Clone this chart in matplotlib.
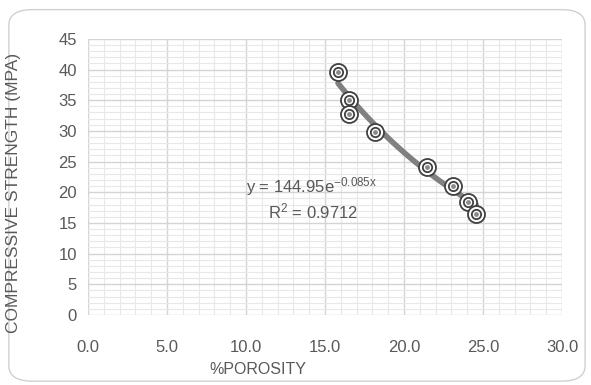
import numpy as np
import matplotlib.pyplot as plt
from matplotlib.patches import FancyBboxPatch
from matplotlib.ticker import MultipleLocator

porosity = [15.82, 16.52, 16.52, 18.16, 21.46, 23.10, 24.05, 24.56]
strength = [39.6, 35.0, 32.8, 29.8, 24.1, 21.0, 18.4, 16.4]
fit_a = 144.95
fit_b = -0.085
r2 = 0.9712

plt.rcParams['font.family'] = ['Liberation Sans Narrow', 'Liberation Sans', 'DejaVu Sans']
txt = '#595959'

fig = plt.figure(figsize=(5.91, 3.85), dpi=100)
frame = FancyBboxPatch((0.015, 0.01), 0.975, 0.965, boxstyle='round,pad=0,rounding_size=0.04',
                       transform=fig.transFigure, facecolor='white', edgecolor='#d0d0d0', lw=1.0,
                       zorder=-5)
fig.patches.append(frame)

ax = fig.add_axes([0.149, 0.182, 0.802, 0.717])
ax.patch.set_alpha(0)
ax.set_xlim(0, 30)
ax.set_ylim(0, 45)
ax.xaxis.set_major_locator(MultipleLocator(5))
ax.xaxis.set_minor_locator(MultipleLocator(1))
ax.yaxis.set_major_locator(MultipleLocator(5))
ax.yaxis.set_minor_locator(MultipleLocator(1))
ax.grid(which='major', color='#d4d4d4', lw=1.0)
ax.grid(which='minor', color='#e8e8e8', lw=0.8)
ax.set_axisbelow(True)
for s in ax.spines.values():
    s.set_visible(False)
ax.tick_params(which='both', length=0, colors=txt, labelsize=12)
ax.tick_params(axis='x', pad=18)
ax.tick_params(axis='y', pad=8)
ax.set_xticks(ax.get_xticks())
ax.set_xticklabels([f'{v:.1f}' for v in ax.get_xticks()])
ax.set_xlim(0, 30)

# trendline from the displayed equation
xs = np.linspace(min(porosity), max(porosity), 100)
ax.plot(xs, fit_a * np.exp(fit_b * xs), color='#808080', lw=4, solid_capstyle='round', zorder=2)

ax.scatter(porosity, strength, s=150, facecolor='white', edgecolor='#404040', lw=1.3, zorder=3)
ax.scatter(porosity, strength, s=45, facecolor='white', edgecolor='#404040', lw=1.3, zorder=4)
ax.scatter(porosity, strength, s=6, color='#8a8a8a', zorder=5)

ax.text(10.0, 20.0, r'y = 144.95e$\mathregular{^{-0.085x}}$', color=txt, fontsize=12)
ax.text(11.4, 15.8, r'R$\mathregular{^2}$ = 0.9712', color=txt, fontsize=12)

fig.text(0.022, 0.50, 'COMPRESSIVE STRENGTH (MPA)', rotation=90, ha='center', va='center',
         color=txt, fontsize=12.5)
fig.text(0.437, 0.04, '%POROSITY', ha='center', va='center', color=txt, fontsize=11.5)

fig.savefig('out.png', dpi=100)
